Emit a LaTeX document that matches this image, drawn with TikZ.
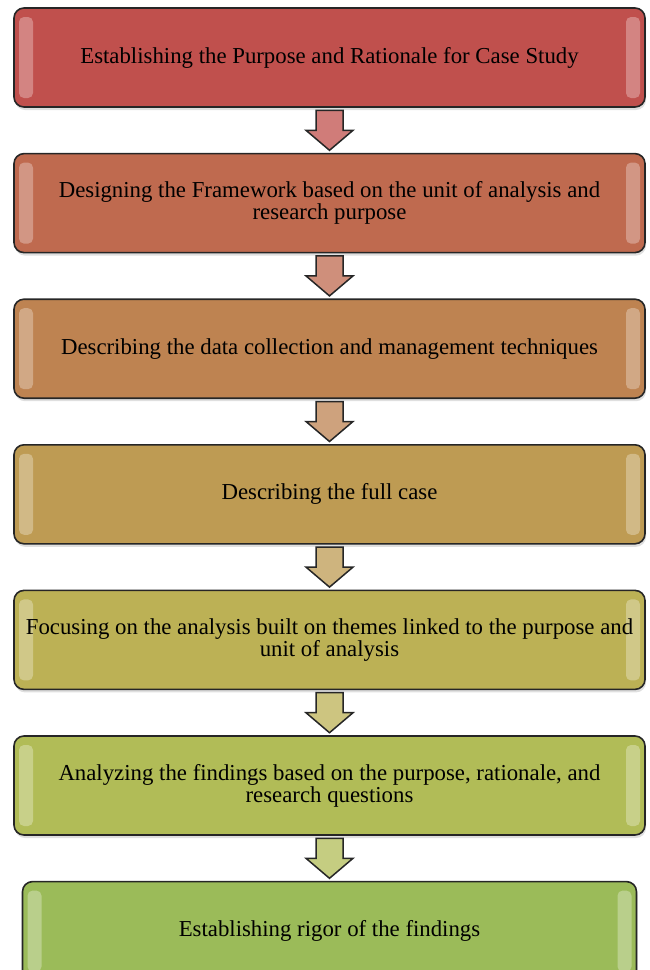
\documentclass[tikz,border=0pt]{standalone}
\usepackage{fontspec}
\setmainfont{Liberation Serif}
\usepackage{xcolor}
\usetikzlibrary{positioning,calc,shadows}

\definecolor{stageA}{RGB}{192,80,77}
\definecolor{stageB}{RGB}{191,106,79}
\definecolor{stageC}{RGB}{190,131,81}
\definecolor{stageD}{RGB}{190,155,83}
\definecolor{stageE}{RGB}{188,177,85}
\definecolor{stageF}{RGB}{177,188,87}
\definecolor{stageG}{RGB}{155,187,89}

\newcommand{\stagefont}{\fontsize{22.8}{22}\selectfont}

\tikzset{
  stage/.style={draw=black!85, line width=1.6pt, rounded corners=10pt,
    minimum width=631pt, minimum height=99pt, align=center, font=\stagefont,
    drop shadow={shadow xshift=1pt, shadow yshift=-3pt, opacity=.25},
    path picture={
      \fill[white, opacity=.3, rounded corners=5pt]
        ([xshift=5pt,yshift=-9pt]path picture bounding box.north west) rectangle
        ([xshift=19pt,yshift=9pt]path picture bounding box.south west);
      \fill[white, opacity=.3, rounded corners=5pt]
        ([xshift=-5pt,yshift=-9pt]path picture bounding box.north east) rectangle
        ([xshift=-19pt,yshift=9pt]path picture bounding box.south east);
    }},
  flow/.style={draw=black!85, line width=1.5pt, line join=miter},
  pics/flowarrow/.style={code={
    \path[pic actions] (-13.5,20) -- (13.5,20) -- (13.5,0) -- (23.5,0)
      -- (0,-20) -- (-23.5,0) -- (-13.5,0) -- cycle;
  }}
}

\begin{document}
\begin{tikzpicture}[x=1pt, y=1pt, node distance=45pt]
    \useasboundingbox (0,0) rectangle (649,-970);

    % stages
    \node[stage, fill=stageA] (purpose) at (329.5,-57.5) {Establishing the Purpose and Rationale for Case Study};
    \node[stage, fill=stageB, below=of purpose] (framework) {Designing the Framework based on the unit of analysis and\\research purpose};
    \node[stage, fill=stageC, below=of framework] (collection) {Describing the data collection and management techniques};
    \node[stage, fill=stageD, below=of collection] (fullcase) {Describing the full case};
    \node[stage, fill=stageE, below=of fullcase] (themes) {Focusing on the analysis built on themes linked to the purpose and\\unit of analysis};
    \node[stage, fill=stageF, below=of themes] (findings) {Analyzing the findings based on the purpose, rationale, and\\research questions};
    \node[stage, fill=stageG, below=of findings, minimum width=614pt] (rigor) {Establishing rigor of the findings};

    % block arrows
    \pic[flow, fill=stageA!75!white] at ($(purpose.south)!.5!(framework.north)$) {flowarrow};
    \pic[flow, fill=stageB!75!white] at ($(framework.south)!.5!(collection.north)$) {flowarrow};
    \pic[flow, fill=stageC!75!white] at ($(collection.south)!.5!(fullcase.north)$) {flowarrow};
    \pic[flow, fill=stageD!75!white] at ($(fullcase.south)!.5!(themes.north)$) {flowarrow};
    \pic[flow, fill=stageE!75!white] at ($(themes.south)!.5!(findings.north)$) {flowarrow};
    \pic[flow, fill=stageF!75!white] at ($(findings.south)!.5!(rigor.north)$) {flowarrow};
\end{tikzpicture}
\end{document}
